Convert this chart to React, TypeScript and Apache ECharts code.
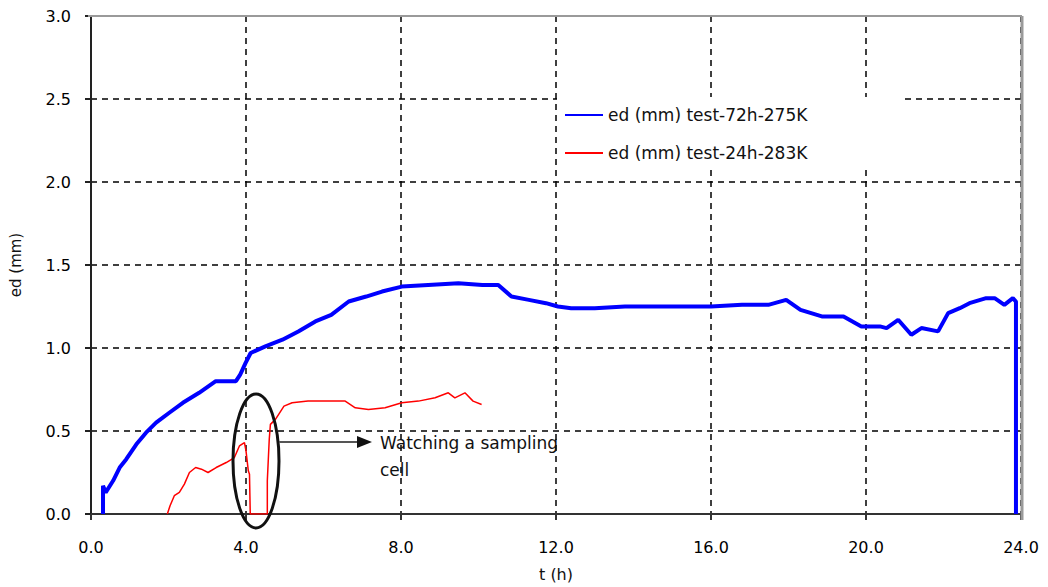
import React, { useEffect, useRef } from "react";
import * as echarts from "echarts";

const blueName = "ed (mm) test-72h-275K";
const redName = "ed (mm) test-24h-283K";

const blueT = [0.31, 0.31, 0.38, 0.57, 0.74, 0.91, 1.17, 1.42, 1.68, 2.02, 2.37, 2.79, 3.22, 3.45, 3.74, 3.85, 3.99, 4.12, 4.5, 4.94, 5.35, 5.79, 6.2, 6.65, 7.1, 7.51, 8.02, 8.7, 9.48, 10.1, 10.51, 10.85, 11.3, 11.74, 12.05, 12.39, 13.0, 13.78, 14.5, 15.3, 16.0, 16.8, 17.48, 17.94, 18.31, 18.86, 19.42, 19.88, 20.36, 20.53, 20.83, 21.17, 21.43, 21.86, 22.12, 22.42, 22.67, 23.1, 23.32, 23.57, 23.79, 23.87, 23.87];
const blueV = [0, 0.17, 0.13, 0.2, 0.28, 0.33, 0.42, 0.49, 0.55, 0.61, 0.67, 0.73, 0.8, 0.8, 0.8, 0.84, 0.91, 0.97, 1.01, 1.05, 1.1, 1.16, 1.2, 1.28, 1.31, 1.34, 1.37, 1.38, 1.39, 1.38, 1.38, 1.31, 1.29, 1.27, 1.25, 1.24, 1.24, 1.25, 1.25, 1.25, 1.25, 1.26, 1.26, 1.29, 1.23, 1.19, 1.19, 1.13, 1.13, 1.12, 1.17, 1.08, 1.12, 1.1, 1.21, 1.24, 1.27, 1.3, 1.3, 1.26, 1.3, 1.28, 0];

const redT = [1.97, 2.04, 2.15, 2.28, 2.41, 2.54, 2.7, 2.85, 3.02, 3.23, 3.49, 3.7, 3.83, 3.96, 4.0, 4.06, 4.09, 4.11, 4.55, 4.55, 4.6, 4.63, 4.76, 4.98, 5.19, 5.6, 6.05, 6.56, 6.82, 7.16, 7.59, 8.02, 8.45, 8.88, 9.22, 9.39, 9.65, 9.86, 10.08];
const redV = [0, 0.05, 0.11, 0.13, 0.18, 0.25, 0.28, 0.27, 0.25, 0.28, 0.31, 0.34, 0.41, 0.43, 0.38, 0.26, 0.24, 0, 0, 0.2, 0.45, 0.54, 0.57, 0.65, 0.67, 0.68, 0.68, 0.68, 0.64, 0.63, 0.64, 0.67, 0.68, 0.7, 0.73, 0.7, 0.73, 0.68, 0.66];

const xTicks = [0, 4, 8, 12, 16, 20, 24];
const yTicks = [0, 0.5, 1, 1.5, 2, 2.5, 3];

const annotationLines = ["Watching a sampling", "cell"];

const FONT = "DejaVu Sans";

export default function App() {
  const ref = useRef<HTMLDivElement>(null);
  useEffect(() => {
    if (!ref.current) return;
    const chart = echarts.init(ref.current, undefined, { renderer: "svg" });
    const blueData = blueT.map((t, i) => [t, blueV[i]]);
    const redData = redT.map((t, i) => [t, redV[i]]);
    const gridLine = { show: true, lineStyle: { type: [6, 5], color: "#000", width: 1.5 } };
    chart.setOption({
      animation: false,
      backgroundColor: "#fff",
      grid: { left: 88, top: 16, right: 27, bottom: 67, containLabel: false },
      xAxis: {
        type: "value",
        min: xTicks[0],
        max: xTicks[xTicks.length - 1],
        interval: 4,
        name: "t (h)",
        nameLocation: "middle",
        nameGap: 52,
        nameTextStyle: { fontFamily: FONT, fontSize: 16, color: "#111" },
        axisLine: { lineStyle: { color: "#333", width: 2 } },
        axisTick: { show: true, length: 6, lineStyle: { color: "#333", width: 2 } },
        axisLabel: { formatter: (v: number) => v.toFixed(1), fontFamily: FONT, fontSize: 16, color: "#000", margin: 25 },
        splitLine: gridLine,
      },
      yAxis: {
        type: "value",
        min: yTicks[0],
        max: yTicks[yTicks.length - 1],
        interval: 0.5,
        name: "ed (mm)",
        nameLocation: "middle",
        nameRotate: 90,
        nameGap: 68,
        nameTextStyle: { fontFamily: FONT, fontSize: 15, color: "#111" },
        axisLine: { show: true, lineStyle: { color: "#222", width: 2 } },
        axisTick: { show: true, length: 6, lineStyle: { color: "#222", width: 2 } },
        axisLabel: { formatter: (v: number) => v.toFixed(1), fontFamily: FONT, fontSize: 16, color: "#000", margin: 20 },
        splitLine: gridLine,
      },
      legend: {
        orient: "vertical",
        left: 565,
        top: 105,
        padding: 0,
        itemWidth: 38,
        itemHeight: 2,
        itemGap: 18,
        icon: "rect",
        textStyle: { fontFamily: FONT, fontSize: 17, color: "#111", lineHeight: 20 },
        data: [blueName, redName],
        z: 6,
      },
      graphic: [
        { type: "rect", z: 3, shape: { x: 557, y: 97, width: 346, height: 73 }, style: { fill: "#fff" } },
        { type: "line", z: 4, shape: { x1: 88, y1: 16, x2: 1022, y2: 16 }, style: { stroke: "#9a9a9a", lineWidth: 2 } },
        { type: "line", z: 4, shape: { x1: 1022, y1: 16, x2: 1022, y2: 520 }, style: { stroke: "#9a9a9a", lineWidth: 3 } },
        { type: "ellipse", z: 5, shape: { cx: 256, cy: 461, rx: 23, ry: 67 }, style: { fill: "none", stroke: "#111", lineWidth: 3 } },
        { type: "line", z: 5, shape: { x1: 279, y1: 442, x2: 360, y2: 442 }, style: { stroke: "#555", lineWidth: 2 } },
        { type: "polygon", z: 5, shape: { points: [[357, 436], [372, 442], [357, 448]] }, style: { fill: "#111" } },
        { type: "text", z: 5, x: 380, y: 443, style: { text: annotationLines[0], fontFamily: FONT, fontSize: 17, fill: "#111", verticalAlign: "middle" } },
        { type: "text", z: 5, x: 380, y: 470, style: { text: annotationLines[1], fontFamily: FONT, fontSize: 17, fill: "#111", verticalAlign: "middle" } },
      ],
      series: [
        {
          name: blueName,
          type: "line",
          data: blueData,
          showSymbol: false,
          symbol: "none",
          color: "#0000ff",
          lineStyle: { color: "#0000ff", width: 4 },
          z: 2,
        },
        {
          name: redName,
          type: "line",
          data: redData,
          showSymbol: false,
          symbol: "none",
          color: "#ff0000",
          lineStyle: { color: "#ff0000", width: 1.5 },
          z: 2,
        },
      ],
    });
    return () => chart.dispose();
  }, []);
  return <div ref={ref} style={{ position: "absolute", left: 0, top: 0, width: 1048, height: 587 }} />;
}
